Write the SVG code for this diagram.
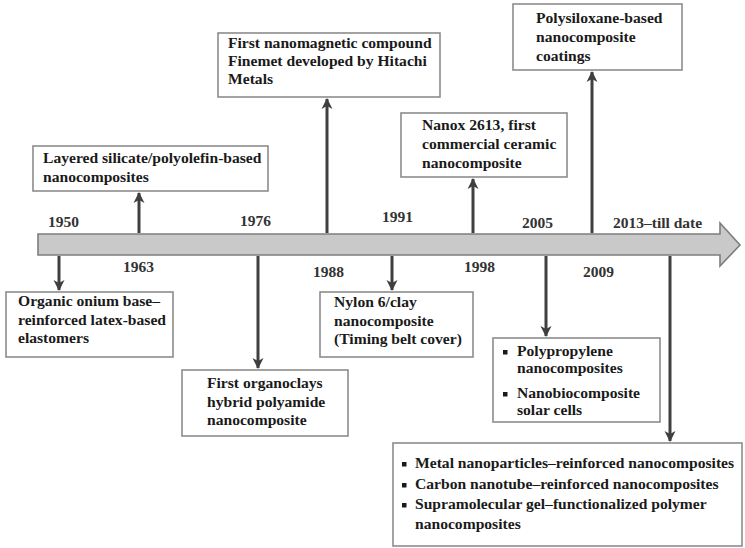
<svg xmlns="http://www.w3.org/2000/svg" width="745" height="548" viewBox="0 0 745 548">
  <style>
    text { font-family: "Liberation Serif", "Times New Roman", "DejaVu Serif", serif; font-weight: bold; fill: #1a1a1a; }
    .lbl { font-size: 15.6px; }
    .yr { font-size: 15.5px; fill: #333; }
    .box { fill: #fff; stroke: #8c8c8c; stroke-width: 1.6; }
    .conn { stroke: #3f3f3f; stroke-width: 3; fill: none; marker-end: url(#head); }
    .bullet { fill: #1a1a1a; }
  </style>
  <defs>
    <marker id="head" viewBox="0 0 12 12" refX="10" refY="6" markerWidth="12" markerHeight="12" markerUnits="userSpaceOnUse" orient="auto">
      <path d="M0,0.5 L11,6 L0,11.5 L3,6 Z" fill="#3f3f3f"/>
    </marker>
  </defs>

  <!-- timeline bar with arrow point -->
  <g id="timeline">
    <path d="M38,234 H720 V223 L740,245 L720,266 V255 H38 Z" fill="#c9c9c9" stroke="#7d7d7d" stroke-width="1.6"/>
  </g>

  <!-- year labels -->
  <g id="years">
    <text class="yr" x="48" y="227">1950</text>
    <text class="yr" x="123" y="272">1963</text>
    <text class="yr" x="240" y="226">1976</text>
    <text class="yr" x="313" y="277">1988</text>
    <text class="yr" x="382" y="222">1991</text>
    <text class="yr" x="464" y="272">1998</text>
    <text class="yr" x="522" y="228">2005</text>
    <text class="yr" x="583" y="277">2009</text>
    <text class="yr" x="613" y="228">2013–till date</text>
  </g>

  <!-- connectors -->
  <g id="connectors">
    <line class="conn" x1="59" y1="256" x2="59" y2="290"/>
    <line class="conn" x1="139" y1="233" x2="139" y2="193"/>
    <line class="conn" x1="258" y1="256" x2="258" y2="368"/>
    <line class="conn" x1="327" y1="233" x2="327" y2="99"/>
    <line class="conn" x1="392" y1="256" x2="392" y2="290"/>
    <line class="conn" x1="473" y1="233" x2="473" y2="179"/>
    <line class="conn" x1="546" y1="256" x2="546" y2="336"/>
    <line class="conn" x1="592" y1="233" x2="592" y2="72"/>
    <line class="conn" x1="670" y1="256" x2="670" y2="441"/>
  </g>

  <g id="n1950">
    <rect class="box" x="6" y="292" width="167" height="65"/>
    <text class="lbl" x="18" y="306">Organic onium base–</text>
    <text class="lbl" x="18" y="325">reinforced latex-based</text>
    <text class="lbl" x="18" y="343">elastomers</text>
  </g>

  <g id="n1963">
    <rect class="box" x="33" y="146" width="235" height="45"/>
    <text class="lbl" x="43" y="163">Layered silicate/polyolefin-based</text>
    <text class="lbl" x="43" y="182">nanocomposites</text>
  </g>

  <g id="n1976">
    <rect class="box" x="182" y="370" width="166" height="66"/>
    <text class="lbl" x="207" y="388">First organoclays</text>
    <text class="lbl" x="207" y="407">hybrid polyamide</text>
    <text class="lbl" x="207" y="425">nanocomposite</text>
  </g>

  <g id="n1988">
    <rect class="box" x="218" y="33" width="222" height="64"/>
    <text class="lbl" x="228" y="48">First nanomagnetic compound</text>
    <text class="lbl" x="228" y="66">Finemet developed by Hitachi</text>
    <text class="lbl" x="228" y="84">Metals</text>
  </g>

  <g id="n1991">
    <rect class="box" x="320" y="292" width="153" height="65"/>
    <text class="lbl" x="334" y="307">Nylon 6/clay</text>
    <text class="lbl" x="334" y="326">nanocomposite</text>
    <text class="lbl" x="334" y="344">(Timing belt cover)</text>
  </g>

  <g id="n1998">
    <rect class="box" x="401" y="113" width="166" height="64"/>
    <text class="lbl" x="422" y="130">Nanox 2613, first</text>
    <text class="lbl" x="422" y="149">commercial ceramic</text>
    <text class="lbl" x="422" y="168">nanocomposite</text>
  </g>

  <g id="n2005">
    <rect class="box" x="493" y="338" width="167" height="84"/>
    <rect class="bullet" x="503" y="350" width="4.5" height="4.5"/>
    <text class="lbl" x="517" y="356">Polypropylene</text>
    <text class="lbl" x="517" y="373">nanocomposites</text>
    <rect class="bullet" x="503" y="392" width="4.5" height="4.5"/>
    <text class="lbl" x="517" y="398">Nanobiocomposite</text>
    <text class="lbl" x="517" y="415">solar cells</text>
  </g>

  <g id="n2009">
    <rect class="box" x="513" y="4" width="169" height="66"/>
    <text class="lbl" x="536" y="23">Polysiloxane-based</text>
    <text class="lbl" x="536" y="42">nanocomposite</text>
    <text class="lbl" x="536" y="61">coatings</text>
  </g>

  <g id="n2013">
    <rect class="box" x="393" y="443" width="349" height="103"/>
    <rect class="bullet" x="402" y="462" width="4.5" height="4.5"/>
    <text class="lbl" x="415" y="468">Metal nanoparticles–reinforced nanocomposites</text>
    <rect class="bullet" x="402" y="483" width="4.5" height="4.5"/>
    <text class="lbl" x="415" y="489">Carbon nanotube–reinforced nanocomposites</text>
    <rect class="bullet" x="402" y="503" width="4.5" height="4.5"/>
    <text class="lbl" x="415" y="509">Supramolecular gel–functionalized polymer</text>
    <text class="lbl" x="415" y="529">nanocomposites</text>
  </g>
</svg>
